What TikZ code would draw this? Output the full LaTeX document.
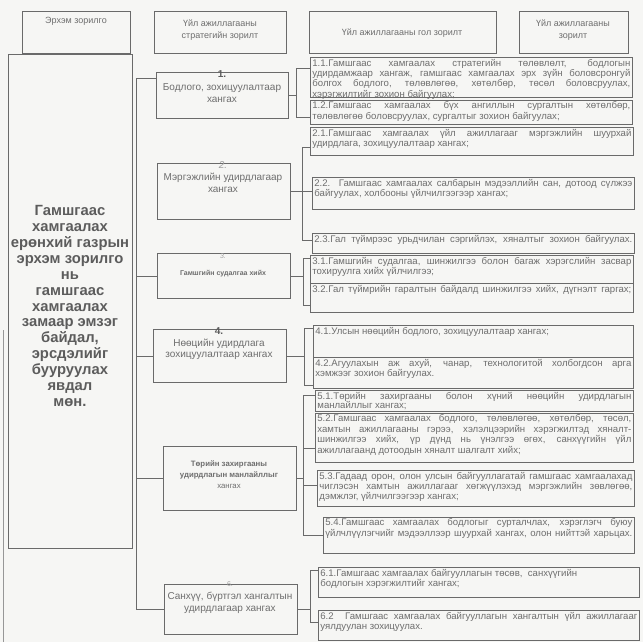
\documentclass[tikz,border=0pt]{standalone}
\usepackage{fontspec}
\setmainfont{Liberation Sans}
\usetikzlibrary{calc}
\tolerance=10000
\hbadness=10000
\vbadness=10000
\definecolor{ink}{HTML}{6E6E6E}
\definecolor{dark}{HTML}{5C5C5C}
\definecolor{faint}{HTML}{A0A0A0}
\definecolor{edge}{HTML}{6A6A6A}
\definecolor{paper}{HTML}{F6F6F4}
\tikzset{
  frame/.style={draw=edge, line width=0.8pt, inner sep=0pt, anchor=north west},
  conn/.style={draw=edge, line width=0.8pt},
  hdr/.style={text=ink, font=\fontsize{9}{12}\selectfont, align=center},
  strat/.style={text=ink, font=\fontsize{10}{12.5}\selectfont, align=center},
  goal/.style={frame, inner xsep=2pt, inner ysep=1.5pt, text=ink, font=\fontsize{9.6}{10.4}\selectfont},
}
\newcommand\goalbox[6]{%
  \node[goal] (#1) at (#2,#3) {\parbox[t][\dimexpr#5pt-3pt\relax][t]{\dimexpr#4pt-4pt\relax}{#6}};}
\begin{document}
\begin{tikzpicture}[x=1pt,y=-1pt]
\useasboundingbox (0,0) rectangle (643,642);
\fill[paper] (0,0) rectangle (643,642);
% header row
\node[frame, minimum width=108pt, minimum height=42pt] (h1) at (22,11) {};
\node[hdr] (h1t) at (76,21) {Эрхэм зорилго};
\node[frame, minimum width=132pt, minimum height=42pt] (h2) at (154,11) {};
\node[hdr] (h2t) at (220,30) {Үйл ажиллагааны\\стратегийн зорилт};
\node[frame, minimum width=187pt, minimum height=42pt] (h3) at (309,11) {};
\node[hdr] (h3t) at (402,33) {Үйл ажиллагааны гол зорилт};
\node[frame, minimum width=109pt, minimum height=42pt] (h4) at (519,11) {};
\node[hdr] (h4t) at (573,30) {Үйл ажиллагааны\\зорилт};
% mission
\node[frame, minimum width=124pt, minimum height=494pt] (mission) at (8,54) {};
\node[text=dark, font=\fontsize{14.8}{15.9}\selectfont\bfseries, align=center] (missiont) at (70,306)
 {Гамшгаас\\хамгаалах\\ерөнхий газрын\\эрхэм зорилго\\нь\\гамшгаас\\хамгаалах\\замаар эмзэг\\байдал,\\эрсдэлийг\\бууруулах\\явдал\\мөн.};
% strategic boxes
\node[frame, minimum width=132pt, minimum height=46pt] (S1) at (156,72) {};
\node[strat] (S1t) at (222,87) {\textbf{\color{dark}1.}\\Бодлого, зохицуулалтаар\\хангах};
\node[frame, minimum width=133pt, minimum height=56pt] (S2) at (157,163) {};
\node[strat, font=\fontsize{10}{12}\selectfont] (S2t) at (223,177) {{\color{faint}\itshape 2.}\\Мэргэжлийн удирдлагаар\\хангах};
\node[frame, minimum width=133pt, minimum height=45pt] (S3) at (157,253) {};
\node[strat, font=\fontsize{7}{17}\selectfont] (S3t) at (223,265) {{\color{faint}\itshape 3.}\\\textbf{Гамшгийн судалгаа хийх}};
\node[frame, minimum width=133pt, minimum height=53pt] (S4) at (153,329) {};
\node[strat, font=\fontsize{10}{11.5}\selectfont] (S4t) at (219,344) {\textbf{\color{dark}4.}\\Нөөцийн удирдлага\\зохицуулалтаар хангах};
\node[frame, minimum width=133pt, minimum height=64pt] (S5) at (163,446) {};
\node[strat, font=\fontsize{7.8}{11}\selectfont\bfseries] (S5t) at (229,475) {Төрийн захиргааны\\удирдлагын манлайллыг\\\mdseries хангах};
\node[frame, minimum width=133pt, minimum height=50pt] (S6) at (164,584) {};
\node[strat] (S6t) at (230,598) {{\color{faint}\fontsize{7}{8}\selectfont 6.}\\Санхүү, бүртгэл хангалтын\\удирдлагаар хангах};
% goal boxes
\goalbox{g11}{310}{57}{322}{40}{1.1.Гамшгаас хамгаалах стратегийн төлөвлөлт, бодлогын\linebreak удирдамжаар хангаж, гамшгаас хамгаалах эрх зүйн боловсронгуй\linebreak болгох бодлого, төлөвлөгөө, хөтөлбөр, төсөл боловсруулах,\linebreak хэрэгжилтийг зохион байгуулах;}
\goalbox{g12}{310}{100}{322}{24}{1.2.Гамшгаас хамгаалах бүх ангиллын сургалтын хөтөлбөр,\linebreak төлөвлөгөө боловсруулах, сургалтыг зохион байгуулах;}
\goalbox{g21}{310}{127}{323}{28}{2.1.Гамшгаас хамгаалах үйл ажиллагааг мэргэжлийн шуурхай\linebreak удирдлага, зохицуулалтаар хангах;}
\goalbox{g22}{312}{177}{322}{32}{2.2.\ \ Гамшгаас хамгаалах салбарын мэдээллийн сан, дотоод сүлжээ\linebreak байгуулах, холбооны үйлчилгээгээр хангах;}
\goalbox{g23}{312}{233}{322}{20}{\parfillskip=0pt 2.3.Гал түймрээс урьдчилан сэргийлэх, хяналтыг зохион байгуулах.}
\goalbox{g31}{310}{255}{323}{28}{3.1.Гамшгийн судалгаа, шинжилгээ болон багаж хэрэгслийн засвар\linebreak тохируулга хийх үйлчилгээ;}
\goalbox{g32}{310}{283}{323}{29}{\parfillskip=0pt 3.2.Гал түймрийн гаралтын байдалд шинжилгээ хийх, дүгнэлт гаргах;}
\goalbox{g41}{313}{325}{320}{32}{4.1.Улсын нөөцийн бодлого, зохицуулалтаар хангах;}
\goalbox{g42}{313}{357}{320}{31}{4.2.Агуулахын аж ахуй, чанар, технологитой холбогдсон арга\linebreak хэмжээг зохион байгуулах.}
\goalbox{g51}{315}{390}{318}{21}{\fontsize{9.6}{9.5}\selectfont 5.1.Төрийн захиргааны болон хүний нөөцийн удирдлагын\linebreak манлайллыг хангах;}
\goalbox{g52}{315}{413}{318}{49}{5.2.Гамшгаас хамгаалах бодлого, төлөвлөгөө, хөтөлбөр, төсөл,\linebreak хамтын ажиллагааны гэрээ, хэлэлцээрийн хэрэгжилтэд хяналт-\linebreak шинжилгээ хийх, үр дүнд нь үнэлгээ өгөх, санхүүгийн үйл\linebreak ажиллагаанд дотоодын хяналт шалгалт хийх;}
\goalbox{g53}{317}{470}{317}{36}{5.3.Гадаад орон, олон улсын байгууллагатай гамшгаас хамгаалахад\linebreak чиглэсэн хамтын ажиллагааг хөгжүүлэхэд мэргэжлийн зөвлөгөө,\linebreak дэмжлэг, үйлчилгээгээр хангах;}
\goalbox{g54}{323}{517}{311}{36}{\parfillskip=0pt 5.4.Гамшгаас хамгаалах бодлогыг сурталчлах, хэрэглэгч буюу\linebreak үйлчлүүлэгчийг мэдээллээр шуурхай хангах, олон нийттэй харьцах.}
\goalbox{g61}{318}{567}{321}{30}{6.1.Гамшгаас хамгаалах байгууллагын төсөв,\ \ санхүүгийн\\ бодлогын хэрэгжилтийг хангах;}
\goalbox{g62}{318}{610}{321}{30}{6.2\ \ Гамшгаас хамгаалах байгууллагын хангалтын үйл ажиллагааг\linebreak уялдуулан зохицуулах.}
% trunk
\coordinate (tk) at (136,78);
\draw[conn] (S1.west |- tk) -- (tk) -- (tk |- S6.west) -- (S6.west);
\draw[conn] (S3.west) -- (S3.west -| tk);
\draw[conn] (S4.west) -- (S4.west -| tk);
\draw[conn] (S5.west) -- (S5.west -| tk);
% group 1
\coordinate (b1t) at (296,68); \coordinate (b1b) at (296,117);
\draw[conn] (g11.west |- b1t) -- (b1t) -- (b1b) -- (g12.west |- b1b);
\draw[conn] (S1.east) -- (S1.east -| b1t);
% group 2
\coordinate (b2t) at (302,147); \coordinate (b2b) at (302,240);
\draw[conn] (g21.west |- b2t) -- (b2t) -- (b2b) -- (g23.west |- b2b);
\draw[conn] (S2.east) -- (g22.west |- S2.east);
% group 3
\coordinate (b3t) at (303,258); \coordinate (b3b) at (303,305);
\draw[conn] (g31.west |- b3t) -- (b3t) -- (b3b) -- (g32.west |- b3b);
\draw[conn] (S3.east) -- (S3.east -| b3t);
% group 4
\coordinate (b4t) at (304,328); \coordinate (b4b) at (304,385);
\draw[conn] (g41.west |- b4t) -- (b4t) -- (b4b) -- (g42.west |- b4b);
\draw[conn] (S4.east) -- (S4.east -| b4t);
% group 5
\coordinate (b5t) at (303,395); \coordinate (b5b) at (303,535);
\coordinate (b5m) at (303,448); \coordinate (b5n) at (303,485);
\draw[conn] (g51.west |- b5t) -- (b5t) -- (b5b) -- (g54.west |- b5b);
\draw[conn] (b5m) -- (g52.west |- b5m);
\draw[conn] (b5n) -- (g53.west |- b5n);
\draw[conn] (S5.east) -- (S5.east -| b5t);
% group 6
\coordinate (b6t) at (310,570); \coordinate (b6b) at (310,622);
\draw[conn] (g61.west |- b6t) -- (b6t) -- (b6b) -- (g62.west |- b6b);
\draw[conn] (S6.east) -- (S6.east -| b6t);
% scanned page edge
\draw[draw=edge!70, line width=0.6pt] (3,330) -- (3,642);
\end{tikzpicture}
\end{document}
